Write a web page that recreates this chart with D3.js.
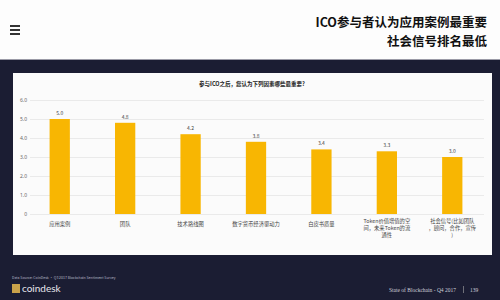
<!DOCTYPE html>
<html>
<head>
<meta charset="utf-8">
<script src="https://cdn.jsdelivr.net/npm/d3@7"></script>
<style>
  body { margin: 0; background: #fff; }
  svg { display: block; font-family: "Noto Sans CJK SC", "Noto Sans", sans-serif; }
</style>
</head>
<body>
<svg id="chart" width="500" height="300"></svg>
<script>
// bar data
const categories = ["应用案例", "团队", "技术路线图", "数字货币经济驱动力", "白皮书质量",
  "Token价值增值的空|间，未来Token的流|通性", "社会信号(比如团队|，顾问，合作，宣传|)"];
const values = [5.0, 4.8, 4.2, 3.8, 3.4, 3.3, 3.0];
const yTicks = [0, 1, 2, 3, 4, 5, 6];
const headline = ["ICO参与者认为应用案例最重要", "社会信号排名最低"];

const svg = d3.select("#chart");

// top white header + dark slide background
svg.append("rect").attr("x", 0).attr("y", 0).attr("width", 500).attr("height", 60).attr("fill", "#fdfdfd");
svg.append("rect").attr("x", 0).attr("y", 59).attr("width", 500).attr("height", 241).attr("fill", "#1b1d33");
svg.append("line").attr("x1", 0).attr("x2", 500).attr("y1", 59.5).attr("y2", 59.5).attr("stroke", "#9a9aa6");

// hamburger icon
[25, 29, 33].forEach(y => {
  svg.append("rect").attr("x", 10).attr("y", y).attr("width", 10).attr("height", 2).attr("fill", "#333");
});

svg.selectAll(".headline").data(headline).enter().append("text")
    .attr("x", 487).attr("y", (d, i) => 27 + i * 19)
    .attr("text-anchor", "end").attr("font-size", 12.5).attr("font-weight", "bold")
    .attr("fill", "#111").text(d => d);

// white chart panel
svg.append("rect").attr("x", 13).attr("y", 73).attr("width", 479).attr("height", 182).attr("fill", "#fbfbfb");

svg.append("text").attr("x", 252).attr("y", 86).attr("text-anchor", "middle")
    .attr("font-size", 5.5).attr("font-weight", "bold").attr("fill", "#222")
    .text("参与ICO之后，您认为下列因素哪些最重要?");

const x = d3.scaleBand().domain(categories).range([28, 484]).paddingInner(0.69).paddingOuter(0.33);
const y = d3.scaleLinear().domain([0, 6]).range([214, 100]);

const g = svg.append("g");

// grid
g.selectAll(".grid").data(yTicks).enter().append("line")
    .attr("x1", 30).attr("x2", 484)
    .attr("y1", d => y(d) + 0.5).attr("y2", d => y(d) + 0.5)
    .attr("stroke", "#e6e6e6").attr("stroke-width", 0.8);

const yAxis = d3.axisLeft(y).tickValues(yTicks).tickSize(0).tickPadding(0)
    .tickFormat(d => d === 0 ? "0" : d3.format(".1f")(d));
g.append("g").attr("transform", "translate(27,0)").call(yAxis)
  .call(a => a.select(".domain").remove())
  .call(a => a.selectAll("text").attr("font-size", 5).attr("fill", "#666").attr("font-family", "Noto Sans"));

g.selectAll(".bar").data(values).enter().append("rect")
    .attr("x", (d, i) => x(categories[i]))
    .attr("y", d => y(d))
    .attr("width", x.bandwidth())
    .attr("height", d => y(0) - y(d))
    .attr("fill", "#f8b602");

g.selectAll(".val").data(values).enter().append("text")
    .attr("x", (d, i) => x(categories[i]) + x.bandwidth() / 2)
    .attr("y", d => y(d) - 4)
    .attr("text-anchor", "middle").attr("font-size", 5).attr("fill", "#444")
    .text(d => d3.format(".1f")(d));

// category labels, "|" marks line breaks
const lab = g.selectAll(".cat").data(categories).enter().append("text")
    .attr("x", d => x(d) + x.bandwidth() / 2)
    .attr("y", 227)
    .attr("text-anchor", "middle").attr("font-size", 5.3).attr("fill", "#444");
lab.each(function(d) {
  const parts = d.split("|");
  const t = d3.select(this);
  const y0 = parts.length > 1 ? 223 : 226;
  parts.forEach((p, k) => {
    t.append("tspan").attr("x", t.attr("x")).attr("y", y0 + k * 7).text(p);
  });
});

// footer
svg.append("text").attr("x", 12).attr("y", 279).attr("font-size", 3.5).attr("fill", "#b8bac8")
    .text("Data Source: CoinDesk · Q3 2017 Blockchain Sentiment Survey");
svg.append("rect").attr("x", 12).attr("y", 284).attr("width", 8).attr("height", 9).attr("fill", "#c9a24a");
svg.append("text").attr("x", 22).attr("y", 292).attr("font-size", 10).attr("fill", "#e8e8ee")
    .attr("font-family", "Lato").text("coindesk");
svg.append("text").attr("x", 456).attr("y", 292).attr("text-anchor", "end").attr("font-size", 5.5)
    .attr("fill", "#d0d0da").attr("font-family", "Liberation Serif").text("State of Blockchain - Q4 2017");
svg.append("line").attr("x1", 463.5).attr("x2", 463.5).attr("y1", 286).attr("y2", 293).attr("stroke", "#aaa").attr("stroke-width", 0.6);
svg.append("text").attr("x", 470).attr("y", 292).attr("font-size", 5.5)
    .attr("fill", "#d0d0da").attr("font-family", "Liberation Serif").text("139");
</script>
</body>
</html>
